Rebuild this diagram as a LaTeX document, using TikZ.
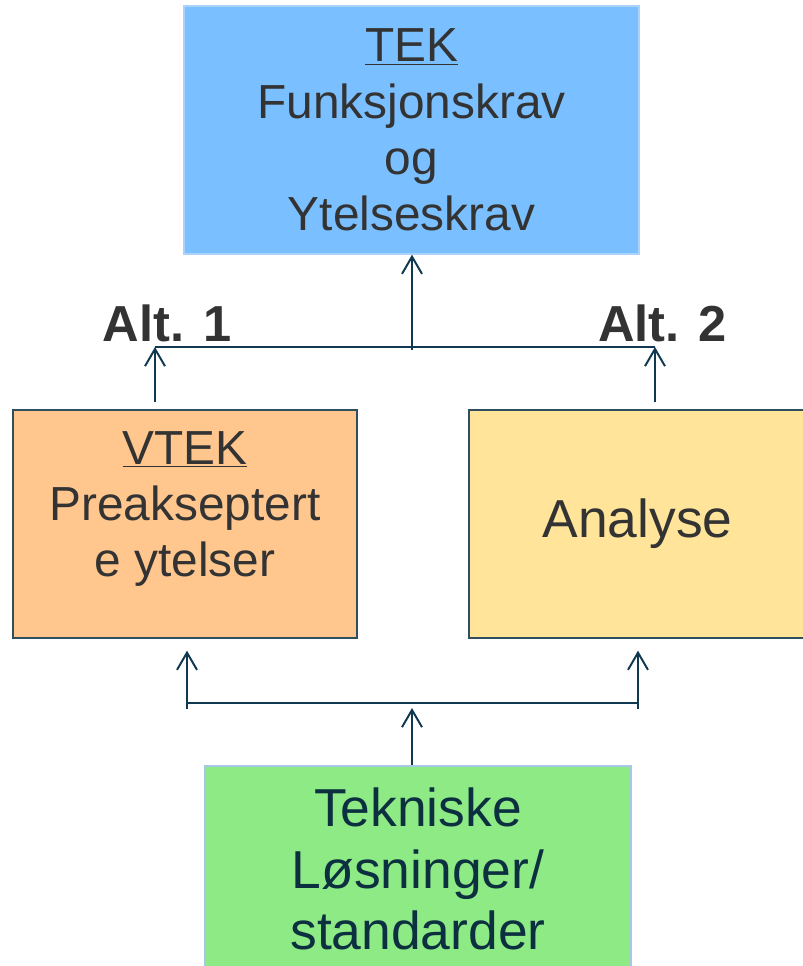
\documentclass[tikz,border=0pt]{standalone}
\usepackage{fontspec}
\setmainfont{Liberation Sans}
\usepackage{tikz}
\usetikzlibrary{shapes,arrows.meta}
\definecolor{tekblue}{RGB}{122,191,255}
\definecolor{tekedge}{RGB}{170,210,250}
\definecolor{vtekorange}{RGB}{255,198,142}
\definecolor{analyseyellow}{RGB}{255,228,153}
\definecolor{losgreen}{RGB}{142,234,132}
\definecolor{losedge}{RGB}{166,200,228}
\definecolor{boxedge}{RGB}{47,79,95}
\definecolor{linkcolor}{RGB}{16,56,80}
\definecolor{textgray}{RGB}{51,51,51}
\definecolor{losnavy}{RGB}{12,48,64}
\tikzstyle{block} = [rectangle, draw=boxedge, line width=1pt, text=textgray, align=center, inner sep=0pt]
\tikzstyle{line} = [draw, color=linkcolor, line width=1.4pt]
\tikzstyle{alt} = [inner sep=0pt, text=textgray, font=\bfseries\fontsize{36}{40}\selectfont]

\begin{document}
\begin{tikzpicture}[>={Straight Barb[length=0.43cm,width=0.5cm]}]
    \useasboundingbox (0,0) rectangle (20.075,24.15);
    % Place nodes
    \node [block, fill=tekblue, draw=tekedge, minimum width=11.375cm, minimum height=6.2cm,
        font=\fontsize{34}{40}\selectfont] at (10.2875,20.9) (tek)
        {\underline{TEK}\\Funksjonskrav\\og\\Ytelseskrav};
    \node [block, fill=vtekorange, minimum width=8.6cm, minimum height=5.7cm, text depth=1.0cm,
        font=\fontsize{34}{40}\selectfont] at (4.625,11.05) (vtek)
        {\underline{VTEK}\\Preakseptert\\e ytelser};
    \node [block, fill=analyseyellow, minimum width=8.425cm, minimum height=5.7cm,
        font=\fontsize{38}{44}\selectfont] at (15.9375,11.05) (analyse) {Analyse};
    \node [block, fill=losgreen, draw=losedge, text=losnavy, minimum width=10.65cm, minimum height=5.15cm,
        font=\fontsize{38}{44}\selectfont] at (10.45,2.425) (losning)
        {Tekniske\\Løsninger/\\standarder};
    \node [alt] at (4.175,16.0625) (alt1) {Alt. 1};
    \node [alt] at (16.5625,16.0625) (alt2) {Alt. 2};
    % Junctions
    \coordinate (topleft) at (3.875,15.475);
    \coordinate (topmid) at (10.3,15.475);
    \coordinate (topright) at (16.375,15.475);
    \coordinate (botleft) at (4.675,6.575);
    \coordinate (botmid) at (10.3,6.575);
    \coordinate (botright) at (15.95,6.575);
    % Draw edges
    \path [line] (topleft) -- (topright);
    \path [line, ->] ([yshift=-0.075cm]topmid) -- (tek.south -| topmid);
    \path [line, ->, shorten <=0.175cm] (vtek.north -| topleft) -- (topleft);
    \path [line, ->, shorten <=0.175cm] (analyse.north -| topright) -- (topright);
    \path [line] (botleft) -- (botright);
    \path [line, ->, shorten >=0.125cm] (losning.north -| botmid) -- (botmid);
    \path [line, ->, shorten >=0.3cm] ([yshift=-0.15cm]botleft) -- (vtek.south -| botleft);
    \path [line, ->, shorten >=0.3cm] ([yshift=-0.15cm]botright) -- (analyse.south -| botright);
\end{tikzpicture}
\end{document}
